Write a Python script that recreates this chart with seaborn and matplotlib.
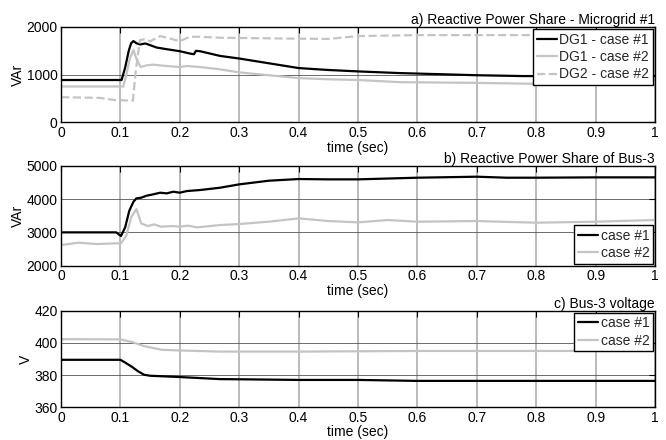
import numpy as np
import pandas as pd
import matplotlib
matplotlib.use("Agg")
import matplotlib.pyplot as plt
import seaborn as sns

# ---------------- data ----------------
# Panel a) Reactive Power Share - Microgrid #1
t_a_dg1_c1 = [0, 0.102, 0.108, 0.114, 0.118, 0.122, 0.127, 0.133, 0.142, 0.150, 0.161, 0.178,
              0.200, 0.217, 0.224, 0.227, 0.234, 0.268, 0.30, 0.35, 0.40, 0.45, 0.50, 0.57,
              0.70, 0.78, 0.90, 1.0]
a_dg1_c1 = [890, 890, 1150, 1500, 1660, 1705, 1660, 1635, 1655, 1620, 1570, 1535,
            1493, 1444, 1430, 1500, 1493, 1394, 1340, 1240, 1140, 1100, 1070, 1035,
            990, 972, 975, 975]

t_a_dg1_c2 = [0, 0.105, 0.110, 0.116, 0.122, 0.127, 0.134, 0.144, 0.155, 0.178, 0.200, 0.212,
              0.234, 0.268, 0.30, 0.35, 0.40, 0.45, 0.50, 0.57, 0.70, 0.80, 0.90, 1.0]
a_dg1_c2 = [754, 754, 1000, 1350, 1514, 1338, 1162, 1197, 1211, 1183, 1162, 1183,
            1162, 1113, 1050, 990, 930, 905, 890, 845, 830, 810, 815, 820]

t_a_dg2_c2 = [0, 0.066, 0.09, 0.121, 0.126, 0.133, 0.142, 0.150, 0.167, 0.200, 0.217, 0.234,
              0.268, 0.30, 0.40, 0.45, 0.50, 0.60, 0.70, 0.80, 0.90, 1.0]
a_dg2_c2 = [530, 515, 470, 458, 1100, 1725, 1746, 1700, 1810, 1704, 1796, 1796,
            1775, 1770, 1755, 1750, 1810, 1830, 1830, 1830, 1830, 1830]

# Panel b) Reactive Power Share of Bus-3
t_b_c1 = [0, 0.093, 0.101, 0.108, 0.115, 0.122, 0.127, 0.135, 0.144, 0.155, 0.167, 0.178,
          0.189, 0.200, 0.212, 0.234, 0.268, 0.30, 0.35, 0.40, 0.45, 0.50, 0.60, 0.70,
          0.75, 0.80, 0.90, 1.0]
b_c1 = [3000, 3000, 2890, 3150, 3650, 3920, 4020, 4040, 4100, 4140, 4190, 4170,
        4220, 4190, 4240, 4270, 4340, 4440, 4550, 4600, 4590, 4590, 4640, 4670,
        4640, 4640, 4650, 4650]

t_b_c2 = [0, 0.03, 0.06, 0.09, 0.101, 0.110, 0.118, 0.127, 0.135, 0.146, 0.157, 0.168,
          0.187, 0.200, 0.214, 0.229, 0.268, 0.30, 0.35, 0.40, 0.45, 0.50, 0.55, 0.60,
          0.70, 0.80, 0.90, 1.0]
b_c2 = [2620, 2690, 2650, 2670, 2670, 2900, 3450, 3700, 3270, 3190, 3240, 3170,
        3190, 3170, 3200, 3150, 3220, 3250, 3320, 3420, 3340, 3300, 3370, 3320,
        3340, 3290, 3320, 3370]

# Panel c) Bus-3 voltage
t_c_c1 = [0, 0.100, 0.108, 0.120, 0.130, 0.140, 0.150, 0.200, 0.268, 0.30, 0.40, 0.50,
          0.60, 0.70, 0.80, 0.90, 1.0]
c_c1 = [389.5, 389.5, 387.8, 385.0, 382.3, 380.2, 379.6, 378.8, 377.5, 377.4, 377.0, 377.0,
        376.4, 376.4, 376.4, 376.4, 376.4]

t_c_c2 = [0, 0.100, 0.120, 0.140, 0.170, 0.200, 0.268, 0.40, 0.50, 0.60, 0.70, 0.80, 0.90, 1.0]
c_c2 = [402.3, 402.2, 400.5, 398.0, 395.7, 395.3, 394.6, 394.6, 394.8, 395.0, 395.0, 395.0,
        395.0, 395.0]

x_ticks = [0, 0.1, 0.2, 0.3, 0.4, 0.5, 0.6, 0.7, 0.8, 0.9, 1.0]
x_ticklabels = ["0", "0.1", "0.2", "0.3", "0.4", "0.5", "0.6", "0.7", "0.8", "0.9", "1"]

titles = ["a) Reactive Power Share - Microgrid #1",
          "b) Reactive Power Share of Bus-3",
          "c) Bus-3 voltage"]
ylabels = ["VAr", "VAr", "V"]
yticks = [[0, 1000, 2000], [2000, 3000, 4000, 5000], [360, 380, 400, 420]]

# ---------------- style ----------------
sns.set_theme(style="white")
plt.rcParams["font.family"] = ["Liberation Sans", "DejaVu Sans"]
FS = 10
plt.rcParams["font.size"] = FS

BLACK = "#000000"
GRAY = "#c4c4c4"

fig = plt.figure(figsize=(6.66, 4.40), dpi=100)
W, H = 666, 440
boxes = [(61, 27, 655, 122.5), (61, 165.7, 655, 265.7), (61, 310.7, 655, 407.3)]
axes = []
for (l, t, r, b) in boxes:
    axes.append(fig.add_axes([l / W, 1 - b / H, (r - l) / W, (b - t) / H]))


def add_series(ax, t, v, color, label, ls="-"):
    df = pd.DataFrame({"t": t, "v": v})
    sns.lineplot(data=df, x="t", y="v", ax=ax, color=color, lw=1.6,
                 linestyle=ls, label=label, estimator=None, sort=False)


add_series(axes[0], t_a_dg1_c1, a_dg1_c1, BLACK, "DG1 - case #1")
add_series(axes[0], t_a_dg1_c2, a_dg1_c2, GRAY, "DG1 - case #2")
add_series(axes[0], t_a_dg2_c2, a_dg2_c2, GRAY, "DG2 - case #2", ls="--")

add_series(axes[1], t_b_c1, b_c1, BLACK, "case #1")
add_series(axes[1], t_b_c2, b_c2, GRAY, "case #2")

add_series(axes[2], t_c_c1, c_c1, BLACK, "case #1")
add_series(axes[2], t_c_c2, c_c2, GRAY, "case #2")

legend_locs = ["upper right", "lower right", "upper right"]

for i, ax in enumerate(axes):
    ax.set_xlim(0, 1)
    ax.set_ylim(yticks[i][0], yticks[i][-1])
    ax.set_xticks(x_ticks)
    ax.set_xticklabels(x_ticklabels)
    ax.set_yticks(yticks[i])
    ax.set_axisbelow(True)
    ax.grid(axis="x", color="#a8a8a8", lw=1.1)
    ax.grid(axis="y", color="#555555", lw=0.6)
    ax.tick_params(direction="in", top=True, right=True, length=4, width=0.8,
                   color="black", labelsize=FS, labelcolor="black")
    ax.tick_params(axis="x", pad=2.5)
    ax.tick_params(axis="y", pad=2.5)
    for s in ax.spines.values():
        s.set_color("black")
        s.set_linewidth(1.0)
    ax.set_xlabel("time (sec)", fontsize=FS, labelpad=0.5, color="black")
    ax.set_ylabel(ylabels[i], fontsize=FS, labelpad=1, color="black")
    ax.set_title(titles[i], loc="right", fontsize=FS, pad=2, color="black")
    leg = ax.legend(loc=legend_locs[i], frameon=True, fancybox=False, framealpha=1,
                    edgecolor="black", borderaxespad=0.15, handlelength=1.5,
                    handletextpad=0.15, labelspacing=0.25, borderpad=0.25, fontsize=FS)
    leg.get_frame().set_linewidth(1.0)

fig.savefig("out.png", dpi=100)
